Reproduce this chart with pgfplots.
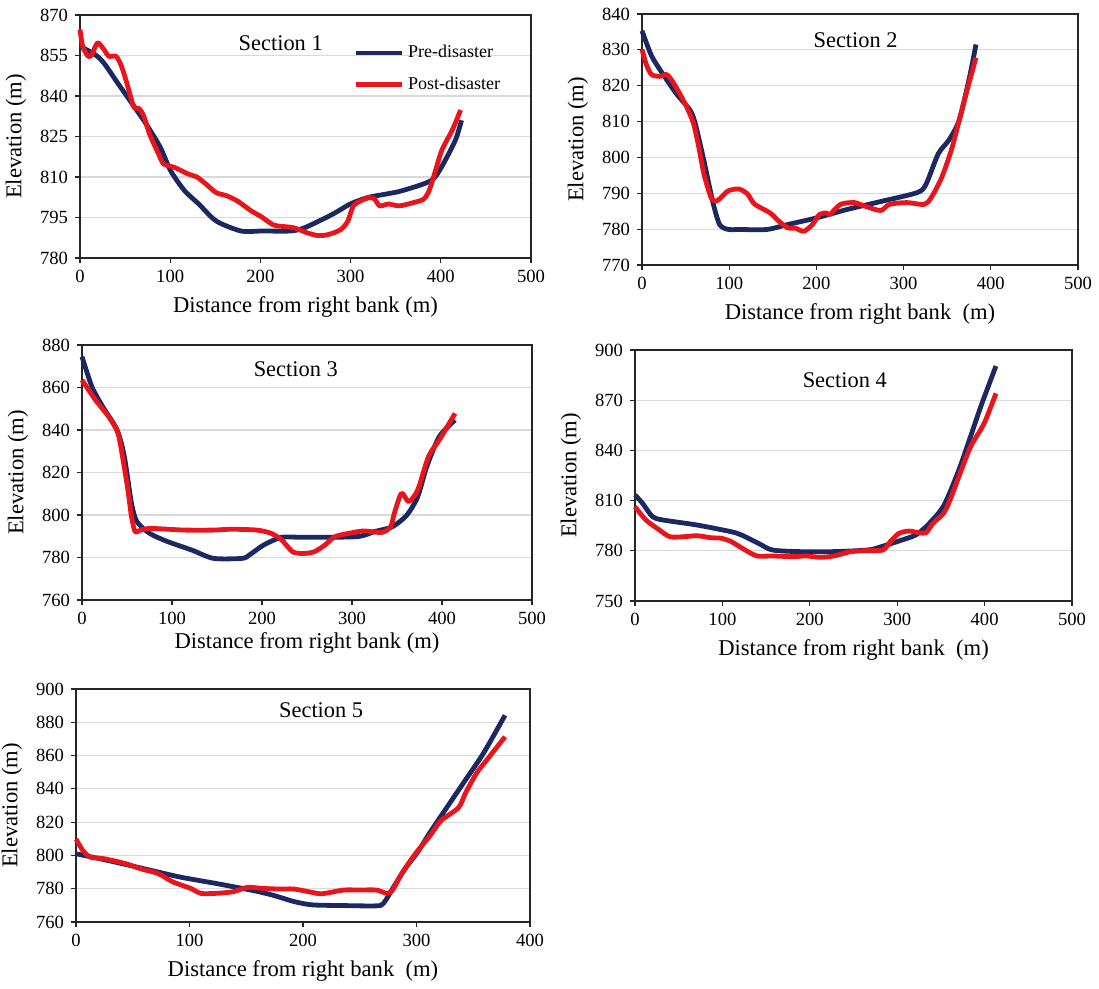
\documentclass[border=0pt]{standalone}
\usepackage{pgfplots}
\pgfplotsset{compat=1.18}
\usepackage{fontspec}
\setmainfont{Liberation Serif}
\definecolor{navy}{HTML}{1C2862}
\definecolor{redl}{HTML}{E8161C}
\tikzset{
  pre/.style={navy},
  post/.style={redl},
  ttl/.style={font=\fontsize{11.2}{13}\selectfont},
}
\pgfplotsset{
  sec/.style={
    scale only axis,
    anchor=north west,
    /pgf/number format/assume math mode=true,
    axis line style={black!85, line width=0.6pt},
    tick style={black!85, line width=0.6pt},
    tick align=outside,
    major tick length=2.5pt,
    xtick pos=bottom, ytick pos=left,
    ymajorgrids, grid style={gray!30, line width=0.6pt},
    tick label style={font=\fontsize{9.3}{10}\selectfont},
    label style={font=\fontsize{11.3}{13}\selectfont},
    ylabel={Elevation (m)},
    every axis plot/.append style={line width=2.4pt, smooth, tension=0.45, line join=round},
    clip=false,
  },
}
\begin{document}
\begin{tikzpicture}
\useasboundingbox (0,0) rectangle (549.5pt,-494.5pt);
% Section 1
\begin{axis}[sec, at={(40pt,-7.5pt)}, width=225.5pt, height=121.5pt,
  xmin=0, xmax=500, ymin=780, ymax=870, ytick={780,795,...,870},
  xlabel={Distance from right bank (m)},
  legend style={at={(rel axis cs:0.605,0.885)}, anchor=north west, draw=none, fill=none,
    font=\fontsize{9}{10}\selectfont, row sep=6pt, inner xsep=0pt, inner ysep=0pt,
    nodes={inner xsep=2pt, inner ysep=1pt}},
  legend cell align=left,
  legend image code/.code={\draw[#1, line width=2.4pt] (0pt,0pt) -- (23pt,0pt);},
  ]
\addplot[pre] coordinates {(0,858.4) (16.8,855.3) (26.5,852.2) (42,844.7) (57.7,837.2) (73,829.8) (89,821) (100.5,812.3) (116,804.9) (131.7,800) (151,793.7) (178.5,790) (202,790) (233,790) (249,791.2) (280,796.2) (299,799.9) (319,802.4) (338,803.6) (357,804.9) (389,808.6) (400.6,813.6) (416,823.5) (423,831)};
\addplot[post] coordinates {(0,864.6) (3,858.4) (9,854.7) (13,855.3) (19.5,859.7) (26.5,857.2) (32,854.7) (40,854.7) (46,851) (52,844.7) (59.6,836) (65.5,835.4) (71,832.3) (77,826) (87,818.6) (92.8,814.8) (104.4,813.6) (120,811.1) (130,809.9) (139.6,807.4) (151,804.2) (163,803) (174.6,801.1) (190,797.4) (200,795.5) (213.5,792.4) (221,791.8) (237,791.2) (252,789.3) (264,788.3) (275.6,788.7) (289,790.5) (297,793.7) (303,799.3) (311,801.1) (321,802.4) (326.6,801.8) (332.4,799.3) (342,800) (354,799.3) (369.5,800.5) (381,801.8) (387,804.9) (393,811.1) (401,819.8) (412.6,827.3) (422,834.8)};
\legend{Pre-disaster, Post-disaster}
\node[ttl] at (rel axis cs:0.445,0.885) {Section 1};
\end{axis}
% Section 2
\begin{axis}[sec, at={(321pt,-7pt)}, width=218pt, height=125.5pt,
  xmin=0, xmax=500, ymin=770, ymax=840, ytick={770,780,...,840},
  xlabel={Distance from right bank\ \ (m)}]
\addplot[pre] coordinates {(0,835.3) (11,828.3) (23,823.6) (39,817.9) (55,813.2) (61,809.5) (71,799.1) (81,787.8) (89,781.3) (99,779.9) (111,779.9) (143,779.9) (167.5,781.3) (199.5,783.1) (235.6,785.5) (275.6,787.8) (315.7,790.2) (325.7,792.5) (339.7,801) (351.8,804.8) (363.8,810.4) (375.8,822.6) (383,831.5)};
\addplot[post] coordinates {(0,830.1) (5,825.9) (11,823.1) (21,822.6) (28.4,823.1) (35,821.2) (45,817) (51,814.2) (59,809.5) (65,803) (71,795.4) (79,788.9) (85,787.8) (91,788.9) (99,790.7) (111,791.2) (121,789.8) (129,787) (147,784.5) (157,782.2) (167.5,780.3) (175.5,780.3) (185.5,779.4) (195.5,781.3) (203.5,784.1) (211.5,784.5) (215.5,784.1) (227.6,786.9) (243.6,787.4) (255.6,786.4) (273.6,785.2) (283.7,786.9) (303.7,787.4) (323.7,786.9) (331.7,788.8) (343.7,794.4) (355.8,802.9) (367.8,814.2) (383,827.8)};
\node[ttl] at (rel axis cs:0.49,0.895) {Section 2};
\end{axis}
% Section 3
\begin{axis}[sec, at={(41pt,-172.5pt)}, width=225pt, height=127.5pt,
  xmin=0, xmax=500, ymin=760, ymax=880, ytick={760,780,...,880},
  xlabel={Distance from right bank (m)}, xlabel style={yshift=3pt}]
\addplot[pre] coordinates {(0,874.5) (11,860.4) (23,851) (39,840) (47,827.5) (55,805.5) (61,796.9) (75,791.4) (95,787.5) (122,783.5) (146,779.6) (178,779.6) (186,781.2) (202,785.9) (222,789.5) (246,789.5) (305,789.8) (325,792.2) (345,794.5) (361,800) (373,808.6) (383,822.7) (397,836.9) (414.5,844.7)};
\addplot[post] coordinates {(0,863.5) (15,854.1) (31,845.5) (40,838.4) (45,827.5) (51,811.8) (55,799.2) (59,792.2) (65,792.9) (75,793.7) (91,793.4) (114.5,792.9) (146,792.9) (166,793.3) (194,792.9) (210,791.4) (222,788.2) (234,782.7) (246,781.9) (258,782.7) (270,785.9) (281,789.8) (297,791.4) (313,792.5) (333,791.8) (343,794.5) (347,800.8) (355,810.2) (363,806.3) (373,811.8) (385,827.5) (397,835.3) (414.5,847.8)};
\node[ttl] at (rel axis cs:0.475,0.906) {Section 3};
\end{axis}
% Section 4
\begin{axis}[sec, at={(317.5pt,-175pt)}, width=218.5pt, height=125.5pt,
  xmin=0, xmax=500, ymin=750, ymax=900, ytick={750,780,...,900},
  xlabel={Distance from right bank\ \ (m)}]
\addplot[pre] coordinates {(0,813.4) (8.6,808.4) (20,800.4) (32,798.4) (71,795.4) (110,791.4) (122,789.4) (141.5,784.4) (157,780.5) (188,779.5) (227.5,779.5) (266.6,780.5) (282,782.5) (305.7,786.5) (321,789.4) (333,794.4) (348.7,803.4) (356.5,810.4) (372,830.3) (395.6,866.1) (413,890.4)};
\addplot[post] coordinates {(0,806.4) (12.5,798.4) (28,792.4) (40,788.4) (55.5,788.4) (71,789) (87,787.8) (98.5,787.5) (110,785.5) (126,780.5) (139.6,776.9) (157,776.9) (180.5,776.5) (196,776.9) (212,776.1) (227.5,776.9) (247,779.5) (266.6,780.1) (284,780.5) (292,785.5) (302,790.4) (313.5,791.8) (325,790.8) (333,790.8) (341,796.4) (353,802.4) (360.5,810.4) (372,826.3) (384,842.2) (399.5,856.2) (413,874.1)};
\node[ttl] at (rel axis cs:0.48,0.88) {Section 4};
\end{axis}
% Section 5
\begin{axis}[sec, at={(38pt,-344.5pt)}, width=227pt, height=116.5pt,
  xmin=0, xmax=400, ymin=760, ymax=900, ytick={760,780,...,900}, xtick={0,100,...,400},
  xlabel={Distance from right bank\ \ (m)}]
\addplot[pre] coordinates {(0,801) (28,797) (60,792) (91,787.1) (123,783.2) (154,779.2) (173,776.2) (192,772.3) (208,770.3) (233,769.9) (264.6,769.7) (271,771.3) (280,781.2) (290,792.1) (301,802) (312,813.9) (327.6,829.7) (343.3,845.5) (359,861.4) (378,884.2)};
\addplot[post] coordinates {(0,809.9) (6,803) (12.6,799) (25,798) (44,795) (56.7,792) (72.4,789.1) (85,784.2) (101,780.2) (110,777.2) (123,777.2) (138.6,778.2) (151,780.8) (164,780.2) (179.5,779.8) (192,779.8) (208,777.8) (217,777) (236,779.2) (249,779.2) (264.6,779.2) (274,777.2) (279,779.2) (287,789.1) (299,801) (312,811.9) (321.5,820.8) (337,828.7) (343.3,837.6) (353,849.5) (362,857.4) (378,871.3)};
\node[ttl] at (rel axis cs:0.54,0.91) {Section 5};
\end{axis}
\end{tikzpicture}
\end{document}
